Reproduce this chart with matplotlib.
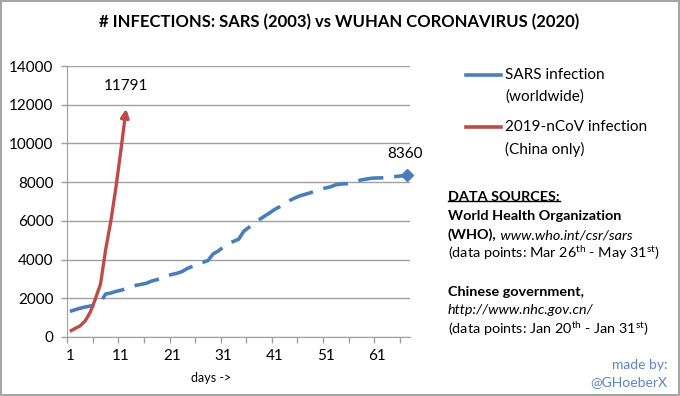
import matplotlib
matplotlib.use('Agg')
import matplotlib.pyplot as plt
from matplotlib.lines import Line2D
import numpy as np

plt.rcParams['font.family'] = ['Lato', 'DejaVu Sans']

# SARS cumulative cases worldwide, Mar 26 - May 31 2003 (WHO)
sars_cases = [1323, 1408, 1485, 1550, 1600, 1622, 1804, 2223, 2270, 2353,
              2416, 2500, 2601, 2671, 2722, 2781, 2890, 2960, 3050, 3169,
              3235, 3293, 3389, 3547, 3650, 3800, 3861, 3947, 4288, 4439,
              4649, 4836, 4940, 5050, 5462, 5663, 5865, 6054, 6234, 6400,
              6583, 6727, 6903, 7053, 7183, 7296, 7370, 7447, 7548, 7628,
              7699, 7761, 7864, 7900, 7919, 7956, 8046, 8114, 8160, 8202,
              8215, 8221, 8240, 8270, 8300, 8330, 8360]
# 2019-nCoV cumulative cases in China, Jan 20 - Jan 31 2020
ncov_cases = [291, 440, 571, 830, 1287, 1975, 2744, 4515, 5974, 7711, 9692, 11791]

sars_days = np.arange(1, len(sars_cases) + 1)
ncov_days = np.arange(1, len(ncov_cases) + 1)
day_labels = [1, 11, 21, 31, 41, 51, 61]
y_ticks = [0, 2000, 4000, 6000, 8000, 10000, 12000, 14000]

title = '# INFECTIONS: SARS (2003) vs WUHAN CORONAVIRUS (2020)'
sars_label = ['SARS infection', '(worldwide)']
ncov_label = ['2019-nCoV infection', '(China only)']

blue = '#4A7EBB'
red = '#BE4B48'
grey = '#A0A0A0'

W, H = 680, 396
fig = plt.figure(figsize=(6.8, 3.96), dpi=100)
fig.patch.set_edgecolor('#A6A6A6')
fig.patch.set_linewidth(1.5)

ax = fig.add_axes([67.3 / W, 1 - 337 / H, (410 - 67.3) / W, (337 - 66) / H])

# SARS line, dashed, diamond at the end
ax.plot(sars_days, sars_cases, color=blue, lw=2.6, dashes=(7, 3),
        solid_capstyle='butt', dash_capstyle='butt', clip_on=False)
ax.plot(sars_days[-1], sars_cases[-1], marker='D', ms=6, color=blue,
        clip_on=False)
ax.annotate(str(sars_cases[-1]), (sars_days[-1], sars_cases[-1]),
            xytext=(-2, 10), textcoords='offset points', ha='center',
            va='bottom', fontsize=11)

# nCoV line, ends with an arrow
ax.plot(ncov_days[:-1], ncov_cases[:-1], color=red, lw=2.4,
        solid_capstyle='butt')
ax.annotate('', xy=(ncov_days[-1], ncov_cases[-1]),
            xytext=(ncov_days[-2], ncov_cases[-2]),
            arrowprops=dict(arrowstyle='-|>', color=red, lw=2.4,
                            mutation_scale=12, shrinkA=0, shrinkB=0))
ax.annotate(str(ncov_cases[-1]), (ncov_days[-1], ncov_cases[-1]),
            xytext=(0, 11), textcoords='offset points', ha='center',
            va='bottom', fontsize=11)

ax.set_xlim(0.5, len(sars_cases) + 0.5)
ax.set_ylim(0, 14000)
ax.set_yticks(y_ticks)
ax.set_xticks(day_labels)
ax.set_xticks(np.arange(0.5, len(sars_cases) + 0.5, 5), minor=True)
ax.tick_params(axis='x', which='major', length=0, pad=9, labelsize=11)
ax.tick_params(axis='x', which='minor', length=4, color=grey, width=1)
ax.tick_params(axis='y', length=4, color=grey, width=1, pad=6, labelsize=11)
ax.grid(axis='y', color=grey, lw=1)
ax.set_axisbelow(True)
for s in ['top', 'right']:
    ax.spines[s].set_visible(False)
for s in ['left', 'bottom']:
    ax.spines[s].set_color(grey)
ax.set_xlabel('days ->', fontsize=9, x=0.42, labelpad=6)

fig.text(339 / W, 1 - 22 / H, title, ha='center', va='center',
         fontsize=12, weight='bold')

# legend
for lab, col, yp in [(sars_label, blue, 75), (ncov_label, red, 127)]:
    fig.add_artist(Line2D([466 / W, 501 / W], [1 - yp / H] * 2,
                          transform=fig.transFigure, color=col, lw=2.6))
    fig.text(505 / W, 1 - yp / H, lab[0], va='center', fontsize=11)
    fig.text(505 / W, 1 - (yp + 22) / H, lab[1], va='center', fontsize=11)

# data sources
x0 = 448 / W
fs = 10.4
hdr = fig.text(x0, 1 - 197 / H, 'DATA SOURCES:', va='center',
               fontsize=fs, weight='bold')
fig.text(x0, 1 - 216 / H, 'World Health Organization', va='center',
         fontsize=fs, weight='bold')
who = fig.text(x0, 1 - 235 / H, '(WHO),', va='center', fontsize=fs,
               weight='bold')
ax.annotate(' www.who.int/csr/sars', xy=(1, 0), xycoords=who, ha='left',
            va='bottom', fontsize=fs, style='italic', annotation_clip=False)
fig.text(x0, 1 - 253 / H,
         r'(data points: Mar 26$^{\mathregular{th}}$ - May 31$^{\mathregular{st}}$)',
         va='center', fontsize=fs)
fig.text(x0, 1 - 292 / H, 'Chinese government,', va='center', fontsize=fs,
         weight='bold')
fig.text(x0, 1 - 310 / H, 'http://www.nhc.gov.cn/', va='center',
         fontsize=fs, style='italic')
fig.text(x0, 1 - 329 / H,
         r'(data points: Jan 20$^{\mathregular{th}}$ - Jan 31$^{\mathregular{st}}$)',
         va='center', fontsize=fs)

fig.text(667 / W, 1 - 365 / H, 'made by:', ha='right', va='center',
         fontsize=10, color='#5B86C0')
fig.text(667 / W, 1 - 382 / H, '@GHoeberX', ha='right', va='center',
         fontsize=10, color='#5B86C0')

# underline the header
fig.canvas.draw()
bb = hdr.get_window_extent().transformed(fig.transFigure.inverted())
fig.add_artist(Line2D([bb.x0, bb.x1], [bb.y0 + 0.004] * 2,
                      transform=fig.transFigure, color='black', lw=1))

fig.savefig('out.png', dpi=100, edgecolor=fig.get_edgecolor())
